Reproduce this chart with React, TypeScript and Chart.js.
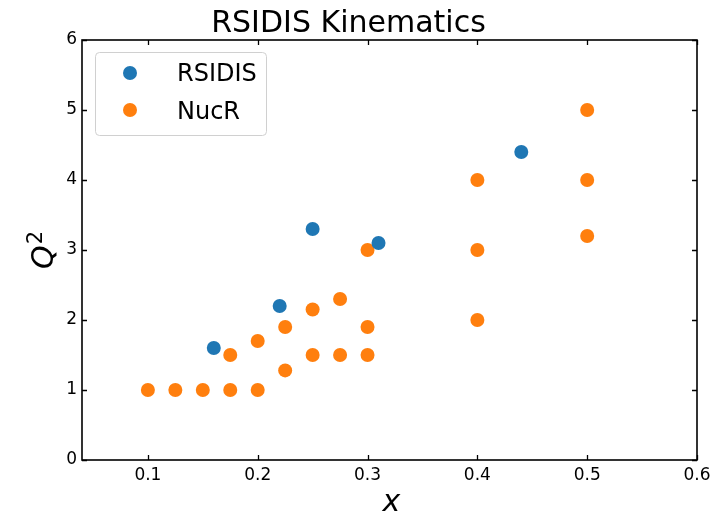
import React, { useEffect, useRef } from 'react';
import { Chart, registerables } from 'chart.js';

Chart.register(...registerables);

const chartTitle = 'RSIDIS Kinematics';
const seriesNames = ['RSIDIS', 'NucR'];
const seriesColors = ['#1f77b4', '#ff7f0e'];

const rsidisX = [0.16, 0.22, 0.25, 0.31, 0.44];
const rsidisQ2 = [1.6, 2.2, 3.3, 3.1, 4.4];

const nucrX = [0.1, 0.125, 0.15, 0.175, 0.2, 0.175, 0.2, 0.225, 0.225, 0.25, 0.25, 0.275, 0.275, 0.3, 0.3, 0.3, 0.4, 0.4, 0.4, 0.5, 0.5, 0.5];
const nucrQ2 = [1, 1, 1, 1, 1, 1.5, 1.7, 1.28, 1.9, 1.5, 2.15, 1.5, 2.3, 1.5, 1.9, 3.0, 2.0, 3.0, 4.0, 3.2, 4.0, 5.0];

const xTicks = [0.1, 0.2, 0.3, 0.4, 0.5, 0.6];
const yTicks = [0, 1, 2, 3, 4, 5, 6];
const xRange = [0.04, 0.6];
const yRange = [0, 6];

const xLabel = 'x';
const yLabelBase = 'Q';
const yLabelSup = '2';

const FONT = 'DejaVu Sans';

const framePlugin = {
  id: 'mplFrame',
  afterDraw(chart: any) {
    const { ctx, chartArea } = chart;
    const { left, right, top, bottom } = chartArea;
    const xs = chart.scales.x;
    const ys = chart.scales.y;
    ctx.save();
    ctx.strokeStyle = '#000';
    ctx.lineWidth = 1.6;
    ctx.strokeRect(left, top, right - left, bottom - top);
    ctx.lineWidth = 1.3;
    const tl = 5;
    ctx.beginPath();
    xTicks.forEach((v) => {
      const px = Math.round(xs.getPixelForValue(v)) + 0.5;
      ctx.moveTo(px, bottom);
      ctx.lineTo(px, bottom - tl);
      ctx.moveTo(px, top);
      ctx.lineTo(px, top + tl);
    });
    yTicks.forEach((v) => {
      const py = Math.round(ys.getPixelForValue(v)) + 0.5;
      ctx.moveTo(left, py);
      ctx.lineTo(left + tl, py);
      ctx.moveTo(right, py);
      ctx.lineTo(right - tl, py);
    });
    ctx.stroke();

    // axis titles
    ctx.fillStyle = '#000';
    ctx.textBaseline = 'alphabetic';
    ctx.textAlign = 'center';
    ctx.font = `italic 30px "${FONT}"`;
    ctx.fillText(xLabel, (left + right) / 2 + 2, 511);

    ctx.save();
    ctx.translate(53, (top + bottom) / 2);
    ctx.rotate(-Math.PI / 2);
    ctx.textAlign = 'left';
    ctx.font = `italic 30px "${FONT}"`;
    const qw = ctx.measureText(yLabelBase).width;
    ctx.font = `21px "${FONT}"`;
    const sw = ctx.measureText(yLabelSup).width;
    const start = -(qw + sw + 1) / 2;
    ctx.font = `italic 30px "${FONT}"`;
    ctx.fillText(yLabelBase, start, 0);
    ctx.font = `21px "${FONT}"`;
    ctx.fillText(yLabelSup, start + qw + 1, -11);
    ctx.restore();

    // legend
    const lx = 95.5, ly = 52.5, lw = 171, lh = 83, r = 4;
    ctx.beginPath();
    ctx.moveTo(lx + r, ly);
    ctx.lineTo(lx + lw - r, ly);
    ctx.quadraticCurveTo(lx + lw, ly, lx + lw, ly + r);
    ctx.lineTo(lx + lw, ly + lh - r);
    ctx.quadraticCurveTo(lx + lw, ly + lh, lx + lw - r, ly + lh);
    ctx.lineTo(lx + r, ly + lh);
    ctx.quadraticCurveTo(lx, ly + lh, lx, ly + lh - r);
    ctx.lineTo(lx, ly + r);
    ctx.quadraticCurveTo(lx, ly, lx + r, ly);
    ctx.closePath();
    ctx.fillStyle = 'rgba(255,255,255,0.8)';
    ctx.fill();
    ctx.strokeStyle = '#d0d0d0';
    ctx.lineWidth = 1;
    ctx.stroke();

    ctx.font = `24px "${FONT}"`;
    ctx.textAlign = 'left';
    ctx.textBaseline = 'alphabetic';
    const rows = [73, 110];
    const bases = [81, 119];
    seriesNames.forEach((name, i) => {
      ctx.beginPath();
      ctx.arc(130, rows[i], 7, 0, Math.PI * 2);
      ctx.fillStyle = seriesColors[i];
      ctx.fill();
      ctx.fillStyle = '#000';
      ctx.fillText(name, 177, bases[i]);
    });
    ctx.restore();
  },
};

export default function App() {
  const ref = useRef<HTMLCanvasElement | null>(null);
  useEffect(() => {
    if (!ref.current) return;
    const chart = new Chart(ref.current, {
      type: 'scatter',
      data: {
        datasets: [
          {
            label: seriesNames[0],
            data: rsidisX.map((x, i) => ({ x, y: rsidisQ2[i] })),
            backgroundColor: seriesColors[0],
            borderColor: seriesColors[0],
            borderWidth: 0,
            pointRadius: 7,
          },
          {
            label: seriesNames[1],
            data: nucrX.map((x, i) => ({ x, y: nucrQ2[i] })),
            backgroundColor: seriesColors[1],
            borderColor: seriesColors[1],
            borderWidth: 0,
            pointRadius: 7,
          },
        ],
      },
      options: {
        animation: false,
        responsive: false,
        maintainAspectRatio: false,
        layout: { padding: { left: 0, right: 29, top: 0, bottom: 0 } },
        plugins: {
          legend: { display: false },
          tooltip: { enabled: false },
          title: {
            display: true,
            text: chartTitle,
            color: '#000',
            font: { family: FONT, size: 30, weight: 'normal' },
            padding: { top: 6, bottom: -2 },
          },
        },
        scales: {
          x: {
            type: 'linear',
            min: xRange[0],
            max: xRange[1],
            afterBuildTicks: (s: any) => {
              s.ticks = xTicks.map((v) => ({ value: v }));
            },
            afterFit: (s: any) => {
              s.height = 55;
            },
            grid: { display: false, drawTicks: false },
            border: { display: false },
            ticks: {
              color: '#000',
              font: { family: FONT, size: 17 },
              padding: 5,
              maxRotation: 0,
              callback: (v: any) => String(Number(Number(v).toFixed(1))),
            },
          },
          y: {
            type: 'linear',
            min: yRange[0],
            max: yRange[1],
            afterBuildTicks: (s: any) => {
              s.ticks = yTicks.map((v) => ({ value: v }));
            },
            afterFit: (s: any) => {
              s.width = 82;
            },
            grid: { display: false, drawTicks: false },
            border: { display: false },
            ticks: {
              color: '#000',
              font: { family: FONT, size: 17 },
              padding: 5,
              callback: (v: any) => String(v),
            },
          },
        },
      },
      plugins: [framePlugin],
    } as any);
    return () => chart.destroy();
  }, []);
  return (
    <div style={{ position: 'absolute', left: 0, top: 0, width: 726, height: 515, background: '#fff' }}>
      <canvas ref={ref} width={726} height={515} style={{ width: 726, height: 515 }} />
    </div>
  );
}
